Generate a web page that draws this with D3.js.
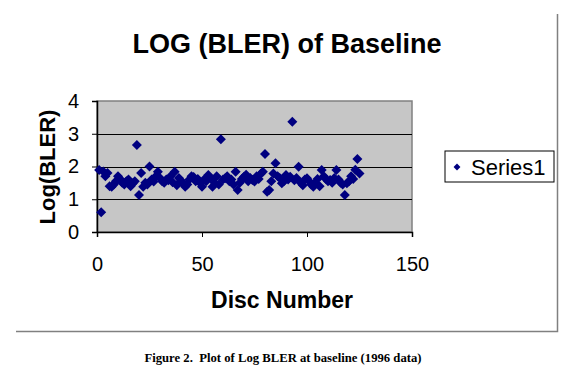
<!DOCTYPE html>
<html>
<head>
<meta charset="utf-8">
<script src="https://cdn.jsdelivr.net/npm/d3@7"></script>
<style>
  body { margin: 0; background: #fff; }
  svg { display: block; }
</style>
</head>
<body>
<svg width="581" height="376"></svg>
<script>
"use strict";

// log(BLER) per disc, disc numbers 1..125
const discNumbers = d3.range(1, 126);
const logBler = [
  1.89, 0.60, 1.85, 1.70, 1.80, 1.40, 1.38, 1.45, 1.55, 1.70,
  1.62, 1.50, 1.45, 1.55, 1.60, 1.40, 1.48, 1.55, 2.66, 1.13,
  1.80, 1.38, 1.50, 1.45, 2.00, 1.60, 1.54, 1.70, 1.84, 1.65,
  1.55, 1.50, 1.60, 1.58, 1.70, 1.52, 1.84, 1.43, 1.65, 1.55,
  1.50, 1.38, 1.45, 1.60, 1.70, 1.68, 1.55, 1.62, 1.50, 1.38,
  1.60, 1.55, 1.74, 1.65, 1.38, 1.50, 1.70, 1.45, 2.83, 1.60,
  1.64, 1.70, 1.55, 1.60, 1.45, 1.84, 1.28, 1.50, 1.62, 1.69,
  1.75, 1.55, 1.65, 1.59, 1.54, 1.70, 1.62, 1.78, 1.84, 2.38,
  1.23, 1.28, 1.55, 1.79, 2.10, 1.70, 1.65, 1.49, 1.55, 1.74,
  1.60, 1.69, 3.37, 1.58, 1.65, 1.99, 1.50, 1.43, 1.60, 1.64,
  1.55, 1.45, 1.38, 1.50, 1.62, 1.40, 1.89, 1.70, 1.62, 1.55,
  1.59, 1.50, 1.65, 1.89, 1.60, 1.50, 1.45, 1.13, 1.49, 1.55,
  1.70, 1.62, 1.90, 2.23, 1.79
];
const xTicks = [0, 50, 100, 150];
const yTicks = [0, 1, 2, 3, 4];
const seriesName = "Series1";

const svg = d3.select("svg");
const plot = { left: 97, right: 412, top: 101, bottom: 232 };
const sans = "Liberation Sans, Arial, sans-serif";

const x = d3.scaleLinear().domain([0, 150]).range([plot.left, plot.right]);
const y = d3.scaleLinear().domain([0, 4]).range([plot.bottom, plot.top]);

// outer chart border (only right + bottom visible)
svg.append("path")
  .attr("d", "M557.5,14V331.5H16")
  .attr("fill", "none")
  .attr("stroke", "#808080")
  .attr("stroke-width", 1.5);

// plot area
svg.append("rect")
  .attr("x", plot.left).attr("y", plot.top)
  .attr("width", plot.right - plot.left)
  .attr("height", plot.bottom - plot.top)
  .attr("fill", "#c6c6c6")
  .attr("stroke", "#808080")
  .attr("stroke-width", 1.5);

// gridlines
svg.append("g")
  .selectAll("line")
  .data(yTicks.filter(t => t > 0 && t < 4))
  .join("line")
  .attr("x1", plot.left).attr("x2", plot.right)
  .attr("y1", d => Math.round(y(d)) + 0.5).attr("y2", d => Math.round(y(d)) + 0.5)
  .attr("stroke", "#000");

// axes
const xAxis = svg.append("g")
  .attr("transform", `translate(0,${plot.bottom})`)
  .call(d3.axisBottom(x).tickValues(xTicks).tickFormat(d3.format("d")).tickSize(5).tickPadding(20));
const yAxis = svg.append("g")
  .attr("transform", `translate(${plot.left},0)`)
  .call(d3.axisLeft(y).tickValues(yTicks).tickFormat(d3.format("d")).tickSize(5).tickPadding(13));

[xAxis, yAxis].forEach(a => {
  a.select(".domain").attr("stroke", "#000").attr("stroke-width", 1.5);
  a.selectAll(".tick line").attr("stroke", "#000");
  a.selectAll(".tick text")
    .attr("fill", "#000")
    .style("font-family", sans)
    .style("font-size", "20px");
});

// points
const diamond = d3.symbol(d3.symbolSquare, 50);
svg.append("g")
  .selectAll("path")
  .data(discNumbers.map((d, i) => [d, logBler[i]]))
  .join("path")
  .attr("d", diamond)
  .attr("transform", d => `translate(${x(d[0])},${y(d[1])}) rotate(45)`)
  .attr("fill", "#000080");

// titles
svg.append("text")
  .attr("x", 287).attr("y", 53)
  .attr("text-anchor", "middle")
  .style("font-family", sans)
  .style("font-weight", "bold")
  .style("font-size", "27px")
  .text("LOG (BLER) of Baseline");

svg.append("text")
  .attr("transform", "translate(55,167) rotate(-90)")
  .attr("text-anchor", "middle")
  .style("font-family", sans)
  .style("font-weight", "bold")
  .style("font-size", "22px")
  .text("Log(BLER)");

svg.append("text")
  .attr("x", 282).attr("y", 308)
  .attr("text-anchor", "middle")
  .style("font-family", sans)
  .style("font-weight", "bold")
  .style("font-size", "23px")
  .text("Disc Number");

// legend
const legend = svg.append("g").attr("transform", "translate(445,151)");
legend.append("rect")
  .attr("width", 109).attr("height", 31)
  .attr("fill", "#fff")
  .attr("stroke", "#000");
legend.append("path")
  .attr("d", d3.symbol(d3.symbolSquare, 24))
  .attr("transform", "translate(12,16) rotate(45)")
  .attr("fill", "#000080");
legend.append("text")
  .attr("x", 26).attr("y", 24)
  .style("font-family", sans)
  .style("font-size", "22px")
  .text(seriesName);

// caption
svg.append("text")
  .attr("x", 283).attr("y", 362)
  .attr("text-anchor", "middle")
  .attr("xml:space", "preserve")
  .style("font-family", "Liberation Serif, Times New Roman, serif")
  .style("font-weight", "bold")
  .style("font-size", "12.7px")
  .text("Figure 2.  Plot of Log BLER at baseline (1996 data)");
</script>
</body>
</html>
